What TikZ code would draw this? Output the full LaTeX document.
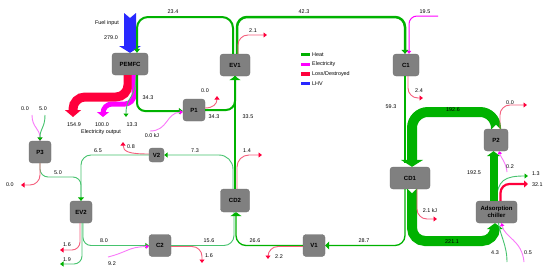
\documentclass[tikz,border=0pt]{standalone}
\usepackage{fontspec}
\setmainfont{Liberation Sans}
\usetikzlibrary{arrows.meta,calc}
\definecolor{heat}{RGB}{0,178,0}
\definecolor{heatl}{RGB}{70,195,110}
\definecolor{elec}{RGB}{255,0,255}
\definecolor{elecl}{RGB}{250,120,250}
\definecolor{loss}{RGB}{255,0,60}
\definecolor{lossl}{RGB}{245,95,125}
\definecolor{lhv}{RGB}{40,40,255}
\definecolor{boxgray}{RGB}{128,128,128}
\begin{document}
\begin{tikzpicture}[x=1pt,y=-1pt,
 box/.style={fill=boxgray, draw=boxgray!85!black, line width=0.3pt, rounded corners=3pt,
   font=\bfseries\fontsize{6}{7}\selectfont, inner sep=0pt, align=center, minimum height=22pt},
 lbl/.style={font=\fontsize{5.4}{6}\selectfont, inner sep=0pt},
 tline/.style={line width=0.9pt},
 rtip/.style={-{Triangle[width=5pt,length=3.5pt,color=loss]}},
 gtip/.style={-{Triangle[width=5pt,length=3.5pt,color=heat]}},
 mtip/.style={-{Triangle[width=4.5pt,length=3pt,color=elec]}}
]
\useasboundingbox (0,0) rectangle (550,273);
\fill[white] (0,0) rectangle (550,273);

% nodes
\node[box,minimum width=36pt] (pemfc) at (130,64) {PEMFC};
\node[box,minimum width=30pt] (ev1) at (235,65) {EV1};
\node[box,minimum width=26pt] (c1) at (406,65) {C1};
\node[box,minimum width=22pt] (p1) at (194,110) {P1};
\node[box,minimum width=22pt] (p3) at (40,152) {P3};
\node[box,minimum width=15pt,minimum height=14pt] (v2) at (156.5,155) {V2};
\node[box,minimum width=22pt] (ev2) at (81,212) {EV2};
\node[box,minimum width=22pt] (c2) at (160,245.5) {C2};
\node[box,minimum width=29pt,minimum height=23pt] (cd2) at (235,200.5) {CD2};
\node[box,minimum width=22pt] (v1) at (314,245.5) {V1};
\node[box,minimum width=40pt] (cd1) at (410,178) {CD1};
\node[box,minimum width=24pt] (p2) at (496,140) {P2};
\node[box,minimum width=41pt] (ach) at (496.5,212) {Adsorption\\chiller};

% free ends
\coordinate (m195) at (438,16);
\coordinate (m00) at (150,131);
\coordinate (p3m) at (32,115);
\coordinate (p3g) at (45,115);
\coordinate (m92) at (108,257);
\coordinate (m02) at (507,172);
\coordinate (g43) at (507,262);
\coordinate (m05) at (524,262);

% fuel input (LHV)
\fill[lhv] (124,13) -- (130,18) -- (136,13) -- (136,46) -- (141,46) -- (pemfc.north) -- (119,46) -- (124,46) -- cycle;

% top heat lines
\draw[heat,line width=2pt,rounded corners=11pt,-{Triangle[width=6pt,length=4pt]}]
  ($(ev1.north)+(-2,0)$) -- (233,17) -- (137,17) -- ($(pemfc.north)+(7,0)$);
\draw[heat,line width=2.5pt,rounded corners=10pt,-{Triangle[width=7pt,length=4pt]}]
  ($(ev1.north)+(2,0)$) -- (237,17) -- (405,17) -- ($(c1.north)+(-1,0)$);
\draw[elec,line width=1pt,rounded corners=8pt,mtip] (m195) -- (409,16) -- ($(c1.north)+(3,0)$);
\draw[lossl,tline,rounded corners=10pt,rtip] ($(ev1.north)+(3,0)$) -- (238,35) -- (267,35);

% PEMFC outputs
\draw[loss,line width=9pt,rounded corners=12pt,-{Triangle[width=16pt,length=7pt]}]
  ($(pemfc.south)+(-2,0)$) -- (128,97) -- (73,97) -- (73,117);
\draw[elec,line width=5pt,rounded corners=9pt,-{Triangle[width=12pt,length=5pt]}]
  ($(pemfc.south)+(4,0)$) -- (134,104) -- (103,104) -- (103,117);
\draw[heatl,tline,gtip] ($(pemfc.south)+(6,0)$) .. controls (136,100) and (126,95) .. (126,117);
\draw[heat,line width=2pt,rounded corners=8pt,-{Triangle[width=6pt,length=4pt]}]
  ($(pemfc.south)+(7,0)$) -- (137,111) -- ($(p1.west)+(0,1)$);
\draw[elecl,tline,mtip] (m00) .. controls (168,131) and (166,113) .. ($(p1.west)+(0,2)$);

% P1 outputs
\draw[lossl,tline,rtip] ($(p1.east)+(0,-2)$) .. controls (213,108) and (217,104) .. (217,96);
\draw[heat,line width=2pt,rounded corners=9pt] (p1.east) -- (235,110) -- (ev1.south);
\draw[heat,line width=2.5pt,-{Triangle[width=11pt,length=4pt]}] (cd2.north) -- (ev1.south);

% CD2 top outputs
\draw[heatl,tline,rounded corners=14pt,gtip] ($(cd2.north)+(-2,0)$) -- (233,155) -- (v2.east);
\draw[lossl,tline,rounded corners=12pt,rtip] ($(cd2.north)+(2,0)$) -- (237,155) -- (262,155);

% V2 outputs
\draw[lossl,tline,rtip] ($(v2.west)+(0,-1)$) .. controls (130,154) and (123,152) .. (123,142);
\draw[heatl,tline,rounded corners=10pt] (v2.west) -- (81,155) -- (ev2.north);

% P3
\draw[elecl,tline,mtip] (p3m) .. controls (32,128) and (40,128) .. (p3.north);
\draw[heatl,tline,gtip] (p3g) .. controls (45,128) and (40,128) .. (p3.north);
\draw[heatl,tline,rounded corners=8pt,-{Triangle[width=6pt,length=3.5pt,color=heat]}]
  (p3.south) -- (40,177) -- (81,177) -- (ev2.north);
\draw[lossl,tline,rounded corners=10pt,rtip] (p3.south) -- (40,185) -- (21,185);

% EV2 bottom
\draw[lossl,tline,rounded corners=8pt,rtip] ($(ev2.south)+(-1,0)$) -- (80,250) -- (60,250);
\draw[heatl,tline,rounded corners=8pt,gtip] ($(ev2.south)+(1,0)$) -- (82,264) -- (60,264);
\draw[heatl,tline,rounded corners=8pt,gtip] ($(ev2.south)+(2,0)$) -- (83,245.5) -- (c2.west);
\draw[elecl,tline,mtip] (m92) .. controls (128,252) and (128,247) .. ($(c2.west)+(0,1)$);

% C2 east
\draw[heatl,tline,rounded corners=10pt] (c2.east) -- (234,245.5) -- ($(cd2.south)+(-1,0)$);
\draw[lossl,tline,rounded corners=10pt,rtip] ($(c2.east)+(0,1)$) -- (202,246.5) -- (202,263);

% V1
\draw[heat,line width=1.3pt,rounded corners=10pt,-{Triangle[width=11pt,length=4pt]}]
  (v1.west) -- (236,245.5) -- ($(cd2.south)+(1,0)$);
\draw[lossl,tline,rounded corners=10pt,rtip] ($(v1.west)+(0,1)$) -- (268,246.5) -- (268,259);
\draw[heat,line width=1.3pt,rounded corners=10pt,-{Triangle[width=8pt,length=4pt]}]
  ($(cd1.south)+(-5,0)$) -- (405,245.5) -- (v1.east);

% 221.1 band
\draw[heat,line width=10pt,rounded corners=13pt,-{Triangle[width=16pt,length=6pt]}]
  ($(cd1.south)+(2,0)$) -- (412,241) -- (495,241) -- ($(ach.south)+(-1.5,0)$);
\fill[white] ($(cd1.south)+(-2,0)$) -- ($(cd1.south)+(6,0)$) -- ($(cd1.south)+(2,4)$) -- cycle;
\draw[lossl,tline,rounded corners=10pt,rtip] ($(cd1.south)+(7,0)$) -- (417,219) -- (437,219);

% 192.6 band
\draw[heat,line width=2pt] ($(c1.south)+(-1,0)$) -- (405,163);
\draw[heat,line width=10pt,rounded corners=16pt,-{Triangle[width=22pt,length=7pt]}]
  (p2.north) -- (496,112) -- (412,112) -- ($(cd1.north)+(2,0)$);
\fill[white] ($(p2.north)+(-4,0)$) -- ($(p2.north)+(4,0)$) -- ($(p2.north)+(0,-4)$) -- cycle;
\draw[lossl,tline,rounded corners=10pt,rtip] ($(c1.south)+(2,0)$) -- (408,98) -- (423,98);
\draw[lossl,tline,rounded corners=10pt,rtip] ($(p2.north)+(4,0)$) -- (500,105) -- (527,105);

% chiller to P2
\draw[heatl,tline,gtip] (ach.north) .. controls (497,180) and (505,176) .. (528,176);
\draw[heat,line width=8pt,-{Triangle[width=13pt,length=5pt]}] ($(ach.north)+(-3,0)$) -- ($(p2.south)+(-2.5,0)$);
\draw[elecl,tline,mtip] (m02) .. controls (506,162) and (501,158) .. ($(p2.south)+(3,0)$);
\draw[loss,line width=2.2pt,rounded corners=9pt,-{Triangle[width=7pt,length=4pt]}]
  ($(ach.north)+(4,0)$) -- (500.5,184) -- (528,184);

% chiller inputs
\draw[heatl,tline] (g43) .. controls (507,245) and (500,235) .. ($(ach.south)+(2,0)$);
\draw[elecl,tline,mtip] (m05) .. controls (522,240) and (505,238) .. ($(ach.south)+(5,0)$);

% legend
\fill[heat] (301,53) rectangle (310,56.3);
\fill[elec] (301,62.7) rectangle (310,66);
\fill[loss] (301,72.3) rectangle (310,75.6);
\fill[lhv] (301,82) rectangle (310,85.3);
\node[lbl,anchor=west] (lg1) at (312,54.6) {Heat};
\node[lbl,anchor=west] (lg2) at (312,64.3) {Electricity};
\node[lbl,anchor=west] (lg3) at (312,73.9) {Loss/Destroyed};
\node[lbl,anchor=west] (lg4) at (312,83.6) {LHV};

% labels
\node[lbl] (l1) at (107,23) {Fuel input};
\node[lbl] (l2) at (111,38) {279.0};
\node[lbl] (l3) at (173,12) {23.4};
\node[lbl] (l4) at (304,12) {42.3};
\node[lbl] (l5) at (425,12) {19.5};
\node[lbl] (l6) at (253,31) {2.1};
\node[lbl] (l7) at (148,98) {34.3};
\node[lbl] (l8) at (205,91) {0.0};
\node[lbl] (l9) at (214,117) {34.3};
\node[lbl] (l10) at (248,117) {33.5};
\node[lbl] (l11) at (74,125) {154.9};
\node[lbl] (l12) at (102,125) {100.0};
\node[lbl] (l13) at (132,125) {13.3};
\node[lbl] (l14) at (101,132) {Electricity output};
\node[lbl] (l15) at (152,136) {0.0 kJ};
\node[lbl] (l16) at (25,109) {0.0};
\node[lbl] (l17) at (43,109) {5.0};
\node[lbl] (l18) at (131,147) {0.8};
\node[lbl] (l19) at (98,151) {6.5};
\node[lbl] (l20) at (195,151) {7.3};
\node[lbl] (l21) at (247,151) {1.4};
\node[lbl] (l22) at (58,173) {5.0};
\node[lbl] (l23) at (10,185) {0.0};
\node[lbl] (l24) at (67,245) {1.6};
\node[lbl] (l25) at (67,260) {1.9};
\node[lbl] (l26) at (104,241) {8.0};
\node[lbl] (l27) at (112,264) {9.2};
\node[lbl] (l28) at (209,241) {15.6};
\node[lbl] (l29) at (209,256) {1.6};
\node[lbl] (l30) at (255,241) {26.6};
\node[lbl] (l31) at (279,257) {2.2};
\node[lbl] (l32) at (364,241) {28.7};
\node[lbl] (l33) at (391,107) {59.3};
\node[lbl] (l34) at (419,91) {2.4};
\node[lbl] (l35) at (453,110) {192.6};
\node[lbl] (l36) at (510,103) {0.0};
\node[lbl] (l37) at (510,167) {0.2};
\node[lbl] (l38) at (474,173) {192.5};
\node[lbl,anchor=west] (l39) at (532,174) {1.3};
\node[lbl,anchor=west] (l40) at (532,185) {32.1};
\node[lbl] (l41) at (430,211) {2.1 kJ};
\node[lbl] (l42) at (452,242) {221.1};
\node[lbl] (l43) at (495,253) {4.3};
\node[lbl] (l44) at (528,253) {0.5};
\end{tikzpicture}
\end{document}
